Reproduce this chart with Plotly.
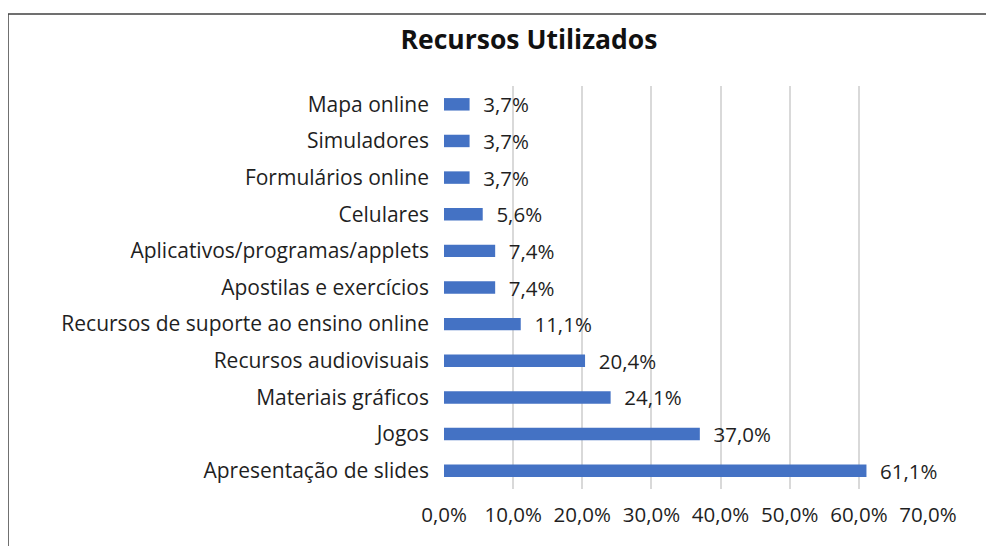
import plotly.graph_objects as go

categories = [
    "Apresentação de slides",
    "Jogos",
    "Materiais gráficos",
    "Recursos audiovisuais",
    "Recursos de suporte ao ensino online",
    "Apostilas e exercícios",
    "Aplicativos/programas/applets",
    "Celulares",
    "Formulários online",
    "Simuladores",
    "Mapa online",
]
values = [61.1, 37.0, 24.1, 20.4, 11.1, 7.4, 7.4, 5.6, 3.7, 3.7, 3.7]
tick_vals = [0, 10, 20, 30, 40, 50, 60, 70]
tick_text = ["0,0%", "10,0%", "20,0%", "30,0%", "40,0%", "50,0%", "60,0%", "70,0%"]

labels = ["  " + f"{v:.1f}".replace(".", ",") + "%" for v in values]

FONT = "Open Sans"
TXT = "#1f1f1f"

fig = go.Figure(
    go.Bar(
        x=values,
        y=categories,
        orientation="h",
        marker=dict(color="#4472C4", line=dict(width=0)),
        text=labels,
        textposition="outside",
        constraintext="none",
        textfont=dict(family=FONT, size=20.5, color=TXT),
        cliponaxis=False,
        width=0.34,
    )
)

OFF = 8  # page body margin
W, H = 994 - OFF, 546 - OFF
L, R, T, B = 444 - OFF, 928 - OFF, 86 - OFF, 489 - OFF
pw, ph = R - L, B - T

def px(x):
    return (x - OFF - L) / pw

def py(y):
    return (B - (y - OFF)) / ph

fig.update_layout(
    width=W,
    height=H,
    margin=dict(l=L, r=W - R, t=T, b=H - B),
    paper_bgcolor="white",
    plot_bgcolor="white",
    showlegend=False,
    title=dict(
        text="<b>Recursos Utilizados</b>",
        x=px(529), xref="paper", xanchor="center",
        y=1 - (40 - OFF) / H, yref="container", yanchor="middle",
        font=dict(family=FONT, size=26.5, color="#111111"),
    ),
    xaxis=dict(
        range=[0, 70],
        tickvals=tick_vals,
        ticktext=tick_text,
        showgrid=True,
        gridcolor="#d9d9d9",
        gridwidth=2,
        zeroline=False,
        showline=False,
        ticks="",
        ticklabelstandoff=11,
        tickfont=dict(family=FONT, size=20.5, color=TXT),
        fixedrange=True,
    ),
    yaxis=dict(
        showgrid=False,
        zeroline=False,
        showline=False,
        ticks="",
        ticklabelstandoff=14,
        tickfont=dict(family=FONT, size=21, color=TXT),
        fixedrange=True,
    ),
    shapes=[
        dict(type="line", xref="paper", yref="paper",
             x0=px(8), x1=px(1010), y0=py(14), y1=py(14),
             line=dict(color="#404040", width=1.5)),
        dict(type="line", xref="paper", yref="paper",
             x0=px(8), x1=px(8), y0=py(14), y1=py(560),
             line=dict(color="#404040", width=1.5)),
    ],
)

fig.write_html("out.html")
